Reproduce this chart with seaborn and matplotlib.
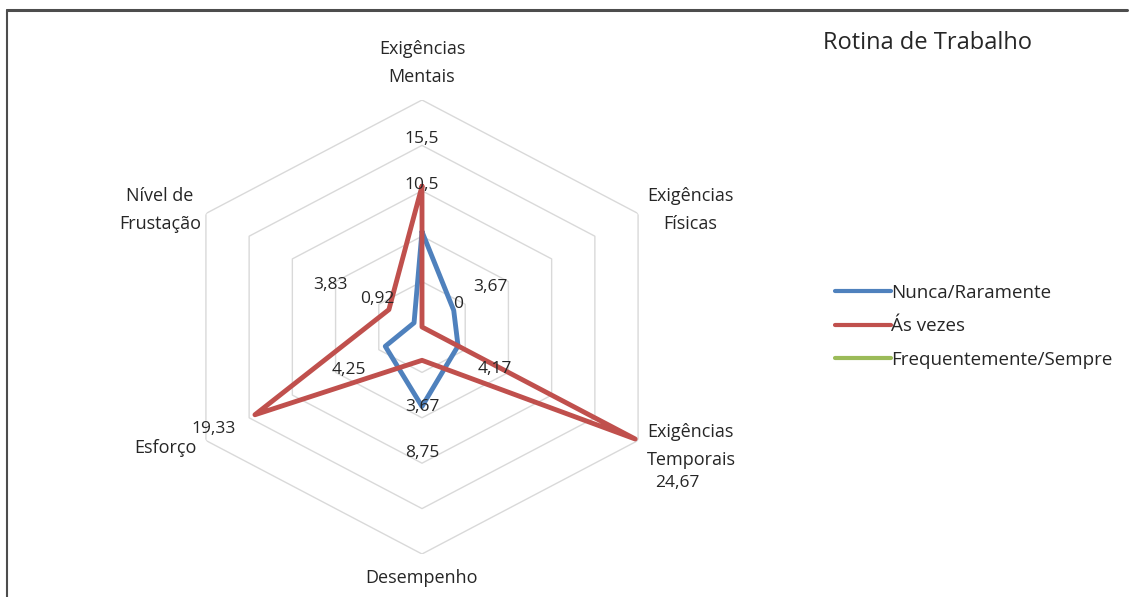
import numpy as np
import pandas as pd
import matplotlib
matplotlib.use("Agg")
import matplotlib.pyplot as plt
from matplotlib.lines import Line2D
import seaborn as sns

# Dimensões avaliadas (sentido horário, a partir do topo)
categorias = ["Exigências\nMentais", "Exigências\nFísicas", "Exigências\nTemporais",
              "Desempenho", "Esforço", "Nível de\nFrustação"]

series = ["Nunca/Raramente", "Ás vezes", "Frequentemente/Sempre"]
nunca_raramente = [10.5, 3.67, 4.17, 8.75, 4.25, 0.92]
as_vezes = [15.5, 0.0, 24.67, 3.67, 19.33, 3.83]
frequentemente_sempre = [0.0, 0.0, 0.0, 0.0, 0.0, 0.0]
valores = [nunca_raramente, as_vezes, frequentemente_sempre]

cores = {"Nunca/Raramente": "#4f81bd", "Ás vezes": "#c0504d",
         "Frequentemente/Sempre": "#9bbb59"}
rotulados = {"Nunca/Raramente", "Ás vezes"}

aneis = [5, 10, 15, 20, 25]
titulo = "Rotina de Trabalho"

sns.set_theme(style="white")
plt.rcParams["font.family"] = ["Open Sans", "DejaVu Sans"]

W, H = 1129, 597
fig = plt.figure(figsize=(W / 100, H / 100), dpi=100)
fig.patch.set_facecolor("white")

# Polar area, stretched horizontally
cx, cy, rx, ry = 422, 327, 249.5, 227
ax = fig.add_axes([(cx - rx) / W, (H - cy - ry) / H, 2 * rx / W, 2 * ry / H],
                  projection="polar")
ax.set_theta_zero_location("N")
ax.set_theta_direction(-1)
ax.set_aspect("auto")
ax.set_ylim(0, aneis[-1])
ax.grid(False)
ax.spines["polar"].set_visible(False)
ax.patch.set_alpha(0)

n = len(categorias)
angulos = np.linspace(0, 2 * np.pi, n, endpoint=False)
fechado = np.append(angulos, angulos[0])

# Hexagonal grid rings
for r in aneis:
    ax.plot(fechado, [r] * (n + 1), color="#d9d9d9", lw=1.0, zorder=1)

# Series as closed polygons
registros = []
for nome, vals in zip(series, valores):
    vv = list(vals) + [vals[0]]
    for i, (t, v) in enumerate(zip(fechado, vv)):
        registros.append({"serie": nome, "ordem": i, "theta": t, "valor": v})
df = pd.DataFrame(registros)

for nome, z in [("Frequentemente/Sempre", 2), ("Nunca/Raramente", 3), ("Ás vezes", 4)]:
    sub = df[df["serie"] == nome]
    sns.lineplot(data=sub, x="theta", y="valor", sort=False, estimator=None,
                 color=cores[nome], lw=3.5, ax=ax, legend=False, zorder=z)
ax.set_xlabel("")
ax.set_ylabel("")
ax.set_xticks([])
ax.set_yticks([])

# Data labels, pushed outward along each spoke
ajuste = {("Ás vezes", 2): (42, -44),
          ("Ás vezes", 4): (-41, -14),
          ("Ás vezes", 5): (-58, 25)}
for nome, vals in zip(series, valores):
    if nome not in rotulados:
        continue
    for i, (t, v) in enumerate(zip(angulos, vals)):
        off = ajuste.get((nome, i), (42 * np.sin(t), 47 * np.cos(t)))
        txt = f"{v:g}".replace(".", ",")
        ax.annotate(txt, xy=(t, v), xytext=off, textcoords="offset pixels",
                    ha="center", va="center", fontsize=12.5, color="#262626",
                    zorder=6, annotation_clip=False)

# Category names
pos_cat = [(422, 63, "center"), (690, 210, "center"), (647, 446, "left"),
           (422, 578, "center"), (197, 448, "right"), (160, 210, "center")]
for nome, (px, py, ha) in zip(categorias, pos_cat):
    fig.text(px / W, 1 - py / H, nome, ha=ha, va="center", fontsize=13,
             color="#262626", linespacing=1.7)

fig.text(928 / W, 1 - 43 / H, titulo, ha="center", va="center", fontsize=17,
         color="#262626")

# Legend
handles = [Line2D([0], [0], color=cores[s], lw=3) for s in series]
fig.legend(handles, series, loc="upper left",
           bbox_to_anchor=(835 / W, 1 - 284 / H), frameon=False, fontsize=13.5,
           handlelength=3.0, handletextpad=0.0, labelspacing=0.82,
           borderaxespad=0, borderpad=0, labelcolor="#262626")

# Chart frame (top and left edges)
fig.add_artist(Line2D([6.5 / W, 6.5 / W], [0, 1 - 10 / H], color="#4d4d4d", lw=1.5,
                      transform=fig.transFigure))
fig.add_artist(Line2D([6.5 / W, 1127 / W], [1 - 10 / H, 1 - 10 / H], color="#4d4d4d",
                      lw=2.2, transform=fig.transFigure))

fig.savefig("out.png", dpi=100, facecolor="white")
